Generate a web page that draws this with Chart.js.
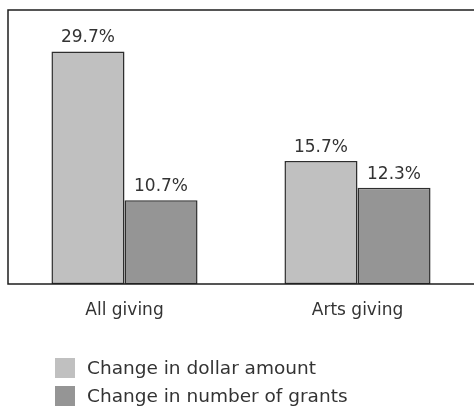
<!doctype html>
<html lang="en">
  <head>
    <meta charset="utf-8">
    <title>Giving change</title>
    <script src="https://cdn.jsdelivr.net/npm/chart.js"></script>
    <style>
        body { margin: 0; background-color: #ffffff; }
        #giving { display: block; }
    </style>
  </head>
  <body>
    <canvas id="giving" width="474" height="409"></canvas>
    <script>
        // values
        const categories = ['All giving', 'Arts giving'];
        const dollarChange = [29.7, 15.7];
        const grantChange = [10.7, 12.3];
        const seriesLabels = ['Change in dollar amount', 'Change in number of grants'];
        const yMax = 35;

        const lightGray = '#c0c0c0';
        const darkGray = '#959595';
        const barEdge = '#2e2e2e';
        const ink = '#333333';
        const fontFamily = '"DejaVu Sans", sans-serif';

        // left border, top line and bottom axis line
        const frame = {
            id: 'frame',
            afterDatasetsDraw(chart) {
                const { ctx, chartArea } = chart;
                ctx.save();
                ctx.strokeStyle = '#1e1e1e';
                ctx.lineWidth = 1.5;
                ctx.beginPath();
                ctx.moveTo(chart.width, chartArea.top);
                ctx.lineTo(chartArea.left, chartArea.top);
                ctx.lineTo(chartArea.left, chartArea.bottom);
                ctx.lineTo(chart.width, chartArea.bottom);
                ctx.stroke();
                ctx.restore();
            }
        };

        // percent labels above bars
        const valueLabels = {
            id: 'valueLabels',
            afterDatasetsDraw(chart) {
                const { ctx } = chart;
                ctx.save();
                ctx.fillStyle = ink;
                ctx.font = '17px ' + fontFamily;
                ctx.textAlign = 'center';
                ctx.textBaseline = 'alphabetic';
                chart.data.datasets.forEach((ds, i) => {
                    chart.getDatasetMeta(i).data.forEach((bar, j) => {
                        ctx.fillText(ds.data[j].toFixed(1) + '%', bar.x, bar.y - 9);
                    });
                });
                ctx.restore();
            }
        };

        // stacked legend below the axis labels
        const stackedLegend = {
            id: 'stackedLegend',
            afterDraw(chart) {
                const { ctx } = chart;
                ctx.save();
                ctx.font = '18.5px ' + fontFamily;
                ctx.textBaseline = 'middle';
                ctx.textAlign = 'left';
                chart.data.datasets.forEach((ds, i) => {
                    const y = 358 + i * 28;
                    ctx.fillStyle = ds.backgroundColor;
                    ctx.fillRect(55, y, 20, 20);
                    ctx.fillStyle = ink;
                    ctx.fillText(ds.label, 87, y + 11);
                });
                ctx.restore();
            }
        };

        new Chart(document.getElementById('giving'), {
            type: 'bar',
            data: {
                labels: categories,
                datasets: [
                    { label: seriesLabels[0], data: dollarChange, backgroundColor: lightGray,
                      borderColor: barEdge, borderWidth: 1.5, borderSkipped: false },
                    { label: seriesLabels[1], data: grantChange, backgroundColor: darkGray,
                      borderColor: barEdge, borderWidth: 1.5, borderSkipped: false }
                ]
            },
            options: {
                responsive: false,
                animation: false,
                devicePixelRatio: 1,
                layout: { padding: { left: 8, top: 10, right: 0, bottom: 0 } },
                datasets: {
                    bar: { categoryPercentage: 0.627, barPercentage: 1 }
                },
                plugins: {
                    legend: { display: false },
                    tooltip: { enabled: false }
                },
                scales: {
                    x: {
                        grid: { display: false, drawTicks: false },
                        border: { display: false },
                        ticks: { color: ink, font: { family: fontFamily, size: 17 }, padding: 16 },
                        afterFit(scale) { scale.height = 125; }
                    },
                    y: {
                        display: false,
                        min: 0,
                        max: yMax
                    }
                }
            },
            plugins: [frame, valueLabels, stackedLegend]
        });
    </script>
  </body>
</html>
